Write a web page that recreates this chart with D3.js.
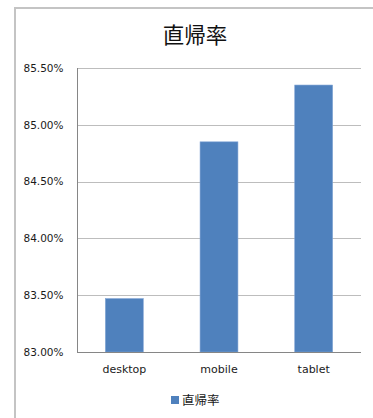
<!DOCTYPE html>
<html>
<head>
<meta charset="utf-8">
<script src="https://cdn.jsdelivr.net/npm/d3@7"></script>
<style>
  html, body { margin: 0; padding: 0; background: #fff; }
  svg { display: block; }
</style>
</head>
<body>
<svg id="chart" width="373" height="418"></svg>
<script>
// Bounce rate by device category
const categories = ["desktop", "mobile", "tablet"];
const values = [83.47, 84.85, 85.35];
const yTicks = [83.0, 83.5, 84.0, 84.5, 85.0, 85.5];
const title = "直帰率";
const seriesName = "直帰率";

const W = 373, H = 418;
const plot = { left: 77, right: 361, top: 68, bottom: 352 };
const barColor = "#4f81bd";
const font = "'DejaVu Sans', 'Noto Sans CJK JP', sans-serif";

const svg = d3.select("#chart");

// chart frame
svg.append("rect")
  .attr("x", 15).attr("y", 8)
  .attr("width", W).attr("height", H)
  .attr("fill", "#fff")
  .attr("stroke", "#c4c4c4")
  .attr("stroke-width", 2);

const x = d3.scaleBand()
  .domain(categories)
  .range([plot.left, plot.right])
  .paddingInner(0.6)
  .paddingOuter(0.3);

const y = d3.scaleLinear()
  .domain([83.0, 85.5])
  .range([plot.bottom, plot.top]);

// horizontal gridlines
svg.append("g")
  .selectAll("line")
  .data(yTicks.slice(1))
  .join("line")
  .attr("x1", plot.left).attr("x2", plot.right)
  .attr("y1", d => Math.round(y(d)) + 0.5)
  .attr("y2", d => Math.round(y(d)) + 0.5)
  .attr("stroke", "#bdbdbd")
  .attr("stroke-width", 1);

// bars
svg.append("g")
  .selectAll("rect")
  .data(categories.map((c, i) => ({ c, v: values[i] })))
  .join("rect")
  .attr("x", d => x(d.c))
  .attr("width", x.bandwidth())
  .attr("y", d => y(d.v))
  .attr("height", d => y(83.0) - y(d.v))
  .attr("fill", barColor)
  .attr("stroke", "#7ea3d3")
  .attr("stroke-width", 0.6);

// y axis
const yAxis = d3.axisLeft(y)
  .tickValues(yTicks)
  .tickSize(0)
  .tickPadding(14)
  .tickFormat(d => d.toFixed(2) + "%");
const gy = svg.append("g")
  .attr("transform", `translate(${plot.left + 0.5},0)`)
  .call(yAxis);
gy.select(".domain").attr("stroke", "#868686").attr("d", `M0,${plot.top}V${plot.bottom}`);
gy.selectAll("text")
  .attr("font-family", font)
  .attr("font-size", "10.5px")
  .attr("fill", "#1a1a1a");

// x axis
const xAxis = d3.axisBottom(x).tickSize(0).tickPadding(13);
const gx = svg.append("g")
  .attr("transform", `translate(0,${plot.bottom + 0.5})`)
  .call(xAxis);
gx.select(".domain").attr("stroke", "#868686").attr("d", `M${plot.left},0H${plot.right}`);
gx.selectAll("text")
  .attr("font-family", font)
  .attr("font-size", "11px")
  .attr("fill", "#1a1a1a");

// title
svg.append("text")
  .attr("x", 195).attr("y", 43)
  .attr("text-anchor", "middle")
  .attr("font-family", "'Noto Sans CJK JP', sans-serif")
  .attr("font-size", "21.5px")
  .attr("fill", "#111")
  .text(title);

// legend
const lg = svg.append("g").attr("transform", "translate(171,396)");
lg.append("rect").attr("width", 8).attr("height", 8).attr("fill", barColor);
lg.append("text")
  .attr("x", 11).attr("y", 8.5)
  .attr("font-family", "'Noto Sans CJK JP', sans-serif")
  .attr("font-size", "12.5px")
  .attr("fill", "#1a1a1a")
  .text(seriesName);
</script>
</body>
</html>
